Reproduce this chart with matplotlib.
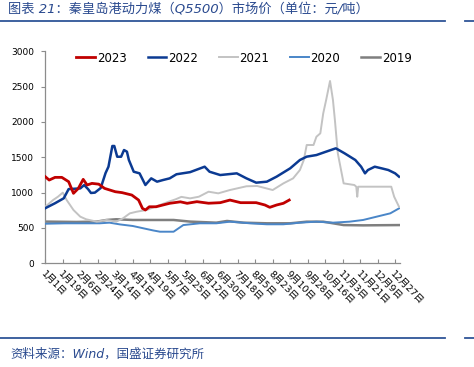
import matplotlib
matplotlib.use("Agg")
import matplotlib.pyplot as plt
from matplotlib.lines import Line2D

plt.rcParams['font.family'] = ['DejaVu Sans', 'Noto Sans CJK SC']

# ---------------- data (day of year, price) ----------------
d2023 = [0, 4, 10, 17, 24, 29, 34, 39, 43, 48, 55, 61, 72, 79, 89, 96, 100, 103, 107, 114,
         121, 128, 139, 146, 156, 168, 180, 190, 201, 217, 226, 231, 238, 245, 251]
v2023 = [1225, 1178, 1216, 1216, 1155, 990, 1060, 1188, 1108, 1131, 1120, 1060, 1013, 1000, 966, 895, 777, 754, 800, 800,
         825, 849, 870, 849, 872, 850, 858, 895, 858, 858, 825, 792, 825, 849, 895]

d2022 = [0, 10, 19, 24, 36, 40, 44, 47, 51, 57, 62, 65, 69, 71, 74, 78, 81, 84, 86, 91,
         97, 103, 109, 115, 121, 128, 135, 149, 164, 169, 180, 197, 207, 217, 228, 238, 252,
         262, 269, 279, 289, 299, 308, 319, 325, 329, 332, 339, 346, 353, 360, 364]
v2022 = [780, 850, 920, 1050, 1060, 1107, 1050, 995, 1000, 1065, 1277, 1367, 1660, 1660, 1508, 1508, 1603, 1580, 1462, 1296,
         1273, 1108, 1202, 1155, 1178, 1202, 1260, 1290, 1367, 1296, 1249, 1273, 1202, 1141, 1155, 1226, 1344,
         1462, 1509, 1532, 1580, 1627, 1556, 1462, 1367, 1273, 1320, 1367, 1344, 1320, 1273, 1226]

d2021 = [0, 8, 13, 18, 22, 29, 36, 42, 53, 63, 73, 80, 87, 94, 104, 111, 118, 127, 134, 140,
         149, 158, 168, 178, 190, 207, 218, 234, 245, 255, 262, 266, 269, 276, 279, 283, 286,
         289, 293, 296, 298, 301, 305, 307, 318, 320, 321, 322, 356, 359, 364]
v2021 = [800, 895, 942, 1000, 895, 754, 660, 623, 589, 613, 589, 637, 707, 730, 754, 790, 825, 872, 905, 940,
         919, 942, 1013, 990, 1037, 1090, 1094, 1037, 1131, 1202, 1320, 1462, 1674, 1674, 1791, 1839, 2122,
         2311, 2580, 2311, 2028, 1556, 1273, 1131, 1108, 1084, 942, 1084, 1084, 942, 800]

d2020 = [0, 20, 56, 66, 77, 90, 101, 111, 118, 132, 142, 159, 176, 190, 211, 228, 245,
         262, 279, 296, 313, 327, 341, 355, 364]
v2020 = [560, 566, 566, 575, 550, 528, 495, 465, 447, 447, 541, 566, 566, 589, 566, 552, 552,
         575, 589, 575, 589, 613, 660, 707, 777]

d2019 = [0, 32, 53, 63, 73, 90, 111, 132, 149, 176, 187, 204, 228, 252, 269, 286, 307, 327, 364]
v2019 = [590, 585, 590, 613, 623, 613, 613, 613, 590, 575, 599, 575, 566, 566, 589, 589, 541, 537, 541]

series_names = ['2023', '2022', '2021', '2020', '2019']

tick_days = [0, 18, 36, 54, 72, 90, 108, 126, 144, 162, 180, 198, 216, 234, 252, 270, 288, 306, 324, 342, 360]
tick_labels = ['1月1日', '1月19日', '2月6日', '2月24日', '3月14日', '4月1日', '4月19日', '5月7日',
               '5月25日', '6月12日', '6月30日', '7月18日', '8月5日', '8月23日', '9月10日', '9月28日',
               '10月16日', '11月3日', '11月21日', '12月9日', '12月27日']

# ---------------- styles ----------------
colors = {'2023': '#C00000', '2022': '#0B3A92', '2021': '#C3C3C3', '2020': '#4A86C8', '2019': '#7F7F7F'}
widths = {'2023': 2.0, '2022': 1.8, '2021': 1.4, '2020': 1.4, '2019': 1.8}
blue_text = '#2A4A8F'

fig = plt.figure(figsize=(4.74, 3.67), dpi=100)
ax = fig.add_axes([45.3 / 474, 1 - 263.3 / 367, (400 - 45.3) / 474, (263.3 - 51.3) / 367])

data = {'2023': (d2023, v2023), '2022': (d2022, v2022), '2021': (d2021, v2021),
        '2020': (d2020, v2020), '2019': (d2019, v2019)}
for z, name in enumerate(['2019', '2020', '2021', '2022', '2023']):
    x, y = data[name]
    ax.plot(x, y, color=colors[name], lw=widths[name], zorder=2 + z, solid_joinstyle='round')

ax.set_xlim(0, 365)
ax.set_ylim(0, 3000)
ax.set_yticks(range(0, 3001, 500))
ax.set_xticks(tick_days)
ax.set_xticklabels(tick_labels, rotation=-45, ha='left', va='top', rotation_mode='anchor', fontsize=6.8)
for s in ['top', 'right']:
    ax.spines[s].set_visible(False)
for s in ['left', 'bottom']:
    ax.spines[s].set_color('#8C8C8C')
    ax.spines[s].set_linewidth(0.9)
ax.tick_params(axis='y', direction='out', length=3, width=0.8, color='#8C8C8C', labelsize=6.5, pad=5)
ax.tick_params(axis='x', direction='in', length=3, width=0.8, color='#8C8C8C', pad=4)

handles = [Line2D([], [], color=colors[n], lw=widths[n]) for n in series_names]
fig.legend(handles, series_names, loc='center', bbox_to_anchor=(244 / 474, 1 - 58 / 367), ncol=5,
           frameon=False, fontsize=8.5, handlelength=1.6, handletextpad=0.15, columnspacing=1.75,
           borderaxespad=0, borderpad=0)

# title, rules, source
fig.text(8 / 474, 1 - 9 / 367, '图表 21：秦皇岛港动力煤（Q5500）市场价（单位：元/吨）',
         color=blue_text, fontsize=9.5, style='italic', ha='left', va='center',
         family=['DejaVu Sans', 'Noto Sans CJK SC'])
for yy in [21, 338]:
    fig.add_artist(Line2D([0, 445 / 474], [1 - yy / 367] * 2, color='#2F5597', lw=1.3))
    fig.add_artist(Line2D([465 / 474, 1], [1 - yy / 367] * 2, color='#2F5597', lw=1.3))
fig.text(10 / 474, 1 - 354 / 367, '资料来源：Wind，国盛证券研究所', color=blue_text, fontsize=9,
         style='italic', ha='left', va='center', family=['DejaVu Sans', 'Noto Sans CJK SC'])

fig.savefig('out.png', dpi=100)
